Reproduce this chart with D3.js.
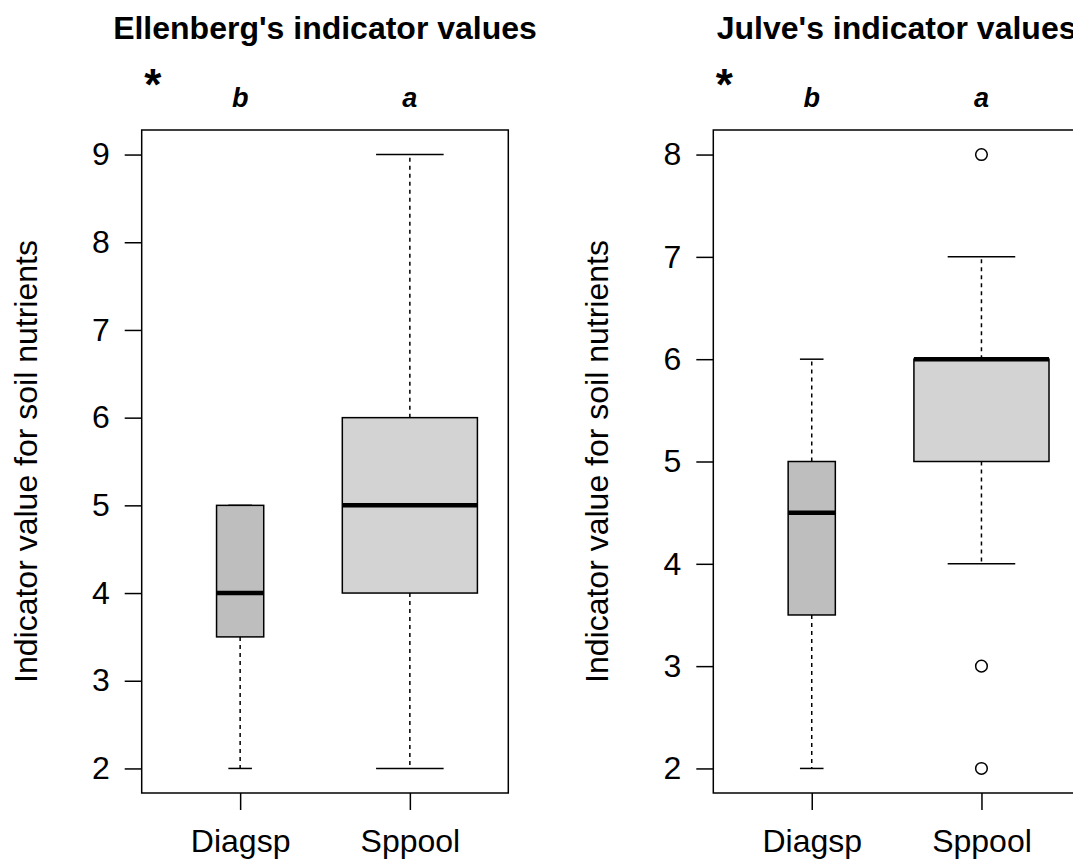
<!DOCTYPE html>
<html>
<head>
<meta charset="utf-8">
<script src="https://cdn.jsdelivr.net/npm/d3@7"></script>
<style>
  html, body { margin: 0; padding: 0; background: #fff; overflow: hidden; }
  svg { display: block; }
  text { font-family: "Liberation Sans", Arial, sans-serif; fill: #000; }
</style>
</head>
<body>
<script>
// ---------- data ----------
const categories = ["Diagsp", "Sppool"];
const panelTitles = ["Ellenberg's indicator values", "Julve's indicator values"];
const yLabel = "Indicator value for soil nutrients";
const groupLetters = ["b", "a"];
const signifMark = "*";

// five-number summaries: [lower whisker, Q1, median, Q3, upper whisker]
const ellenbergStats = [
  [2, 3.5, 4, 5, 5],
  [2, 4, 5, 6, 9]
];
const julveStats = [
  [2, 3.5, 4.5, 5, 6],
  [4, 5, 6, 6, 7]
];
const ellenbergOutliers = [[], []];
const julveOutliers = [[], [8, 3, 2]];

const ellenbergTicks = [2, 3, 4, 5, 6, 7, 8, 9];
const julveTicks = [2, 3, 4, 5, 6, 7, 8];

// ---------- drawing ----------
const W = 1073, H = 859;
const svg = d3.select("body").append("svg").attr("width", W).attr("height", H);

const boxFill = ["#bebebe", "#d3d3d3"];
const boxWidthUnits = [0.278, 0.796];

function rangeExt(lo, hi) { const d = (hi - lo) * 0.04; return [lo - d, hi + d]; }

function panel(left, stats, outliers, ticks, title) {
  const top = 130, bottom = 793, width = 366.6;
  const allVals = stats.flat().concat(outliers.flat());
  const yDom = rangeExt(d3.min(allVals), d3.max(allVals));
  const y = d3.scaleLinear().domain(yDom).range([bottom, top]);
  const x = d3.scaleLinear().domain(rangeExt(0.5, 2.5)).range([left, left + width]);
  const g = svg.append("g");

  // boxes
  stats.forEach((s, i) => {
    const cx = x(i + 1);
    const bw = x(i + 1 + boxWidthUnits[i] / 2) - cx;
    const capw = bw / 2;
    const [lo, q1, med, q3, hi] = s;
    // whiskers
    g.append("line").attr("x1", cx).attr("x2", cx).attr("y1", y(q3)).attr("y2", y(hi))
      .attr("stroke", "#000").attr("stroke-width", 1.5).attr("stroke-dasharray", "4,4");
    g.append("line").attr("x1", cx).attr("x2", cx).attr("y1", y(q1)).attr("y2", y(lo))
      .attr("stroke", "#000").attr("stroke-width", 1.5).attr("stroke-dasharray", "4,4");
    // caps
    [lo, hi].forEach(v => {
      g.append("line").attr("x1", cx - capw).attr("x2", cx + capw).attr("y1", y(v)).attr("y2", y(v))
        .attr("stroke", "#000").attr("stroke-width", 1.5);
    });
    // box
    g.append("rect").attr("x", cx - bw).attr("y", y(q3)).attr("width", 2 * bw).attr("height", y(q1) - y(q3))
      .attr("fill", boxFill[i]).attr("stroke", "#000").attr("stroke-width", 1.5);
    // median
    g.append("line").attr("x1", cx - bw).attr("x2", cx + bw).attr("y1", y(med)).attr("y2", y(med))
      .attr("stroke", "#000").attr("stroke-width", 4.5);
    // outliers
    outliers[i].forEach(v => {
      g.append("circle").attr("cx", cx).attr("cy", y(v)).attr("r", 5.8)
        .attr("fill", "none").attr("stroke", "#000").attr("stroke-width", 1.5);
    });
  });

  // frame
  g.append("rect").attr("x", left).attr("y", top).attr("width", width).attr("height", bottom - top)
    .attr("fill", "none").attr("stroke", "#000").attr("stroke-width", 1.5);

  // y axis
  const yAxis = d3.axisLeft(y).tickValues(ticks).tickSize(17).tickPadding(15).tickFormat(d3.format("d"));
  const ya = g.append("g").attr("transform", `translate(${left},0)`).call(yAxis);
  ya.select(".domain").remove();
  ya.selectAll(".tick line").attr("stroke", "#000").attr("stroke-width", 1.5);
  ya.selectAll(".tick text").attr("font-size", 32).attr("font-family", "Liberation Sans, Arial, sans-serif")
    .attr("fill", "#000");

  // x axis
  const xAxis = d3.axisBottom(x).tickValues([1, 2]).tickSize(17).tickPadding(0)
    .tickFormat(d => categories[d - 1]);
  const xa = g.append("g").attr("transform", `translate(0,${bottom})`).call(xAxis);
  xa.select(".domain").remove();
  xa.selectAll(".tick line").attr("stroke", "#000").attr("stroke-width", 1.5);
  xa.selectAll(".tick text").attr("font-size", 32).attr("font-family", "Liberation Sans, Arial, sans-serif")
    .attr("fill", "#000").attr("dy", null).attr("y", 852 - bottom);

  // y label
  g.append("text").attr("transform", `translate(${left - 105},${(top + bottom) / 2}) rotate(-90)`)
    .attr("text-anchor", "middle").attr("font-size", 32).text(yLabel);

  // title
  g.append("text").attr("x", left + width / 2).attr("y", 39).attr("text-anchor", "middle")
    .attr("font-size", 32).attr("font-weight", "bold").text(title);

  // group letters
  groupLetters.forEach((l, i) => {
    g.append("text").attr("x", x(i + 1)).attr("y", 107).attr("text-anchor", "middle")
      .attr("font-size", 27).attr("font-weight", "bold").attr("font-style", "italic").text(l);
  });
  // significance mark
  g.append("text").attr("x", left + 11).attr("y", 100).attr("text-anchor", "middle")
    .attr("font-size", 44).attr("font-weight", "bold").text(signifMark);
}

panel(141.7, ellenbergStats, ellenbergOutliers, ellenbergTicks, panelTitles[0]);
panel(713.3, julveStats, julveOutliers, julveTicks, panelTitles[1]);
</script>
</body>
</html>
